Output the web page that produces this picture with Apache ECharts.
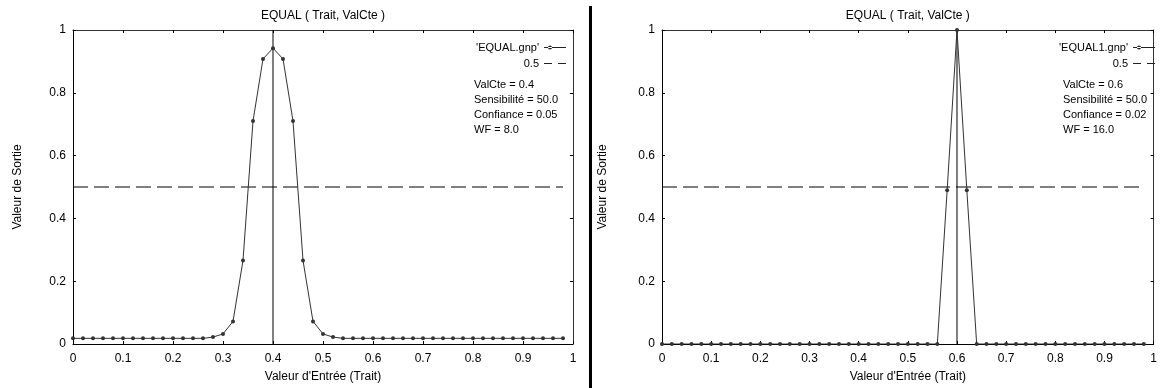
<!DOCTYPE html>
<html><head><meta charset="utf-8">
<script src="https://cdn.jsdelivr.net/npm/echarts@6/dist/echarts.min.js"></script>
<style>html,body{margin:0;padding:0;background:#fff}#c{width:1160px;height:388px}</style>
</head><body><div id="c"></div>
<script>
// ---- data ----
const xValues = [0,0.02,0.04,0.06,0.08,0.1,0.12,0.14,0.16,0.18,0.2,0.22,0.24,0.26,0.28,0.3,0.32,0.34,0.36,0.38,
  0.4,0.42,0.44,0.46,0.48,0.5,0.52,0.54,0.56,0.58,0.6,0.62,0.64,0.66,0.68,0.7,0.72,0.74,0.76,0.78,
  0.8,0.82,0.84,0.86,0.88,0.9,0.92,0.94,0.96,0.98];
const leftValues = [0.018,0.018,0.018,0.018,0.018,0.018,0.018,0.018,0.018,0.018,0.018,0.018,0.018,0.018,
  0.022,0.032,0.072,0.266,0.71,0.908,0.942,0.908,0.71,0.266,0.072,0.032,0.022,
  0.018,0.018,0.018,0.018,0.018,0.018,0.018,0.018,0.018,0.018,0.018,0.018,0.018,0.018,0.018,0.018,0.018,0.018,0.018,0.018,0.018,0.018,0.018];
const rightValues = [0,0,0,0,0,0,0,0,0,0,0,0,0,0,0,0,0,0,0,0,0,0,0,0,0,0,0,0,0,
  0.49,1.0,0.49,
  0,0,0,0,0,0,0,0,0,0,0,0,0,0,0,0,0,0];
const thresholdValue = 0.5;
const thresholdRange = [0, 0.98];
const valCte = [0.4, 0.6];
const seriesNames = ["'EQUAL.gnp'", "'EQUAL1.gnp'"];
const thresholdName = '0.5';
const chartTitle = 'EQUAL ( Trait, ValCte )';
const xName = "Valeur d'Entrée (Trait)";
const yName = 'Valeur de Sortie';
const infoLeft = ['ValCte = 0.4', 'Sensibilité = 50.0', 'Confiance = 0.05', 'WF = 8.0'];
const infoRight = ['ValCte = 0.6', 'Sensibilité = 50.0', 'Confiance = 0.02', 'WF = 16.0'];

// ---- chart ----
const FONT = '"Liberation Sans", Arial, sans-serif';
const chart = echarts.init(document.getElementById('c'), null, {renderer: 'canvas'});

const grids = [
  {left: 73, top: 30, width: 500, height: 315.7},
  {left: 662, top: 30, width: 502, height: 315.7}
];
const yGaps = [49, 53];

const xAxes = [], yAxes = [], series = [];
grids.forEach((g, i) => {
  xAxes.push({
    gridIndex: i, type: 'value', min: 0, max: 1, interval: 0.1, position: 'bottom',
    name: xName, nameLocation: 'middle', nameGap: 27,
    nameTextStyle: {fontFamily: FONT, fontSize: 12, color: '#000'},
    axisLine: {show: true, onZero: false, lineStyle: {color: '#000', width: 1}},
    axisTick: {show: true, inside: true, length: 3, lineStyle: {color: '#000'}},
    axisLabel: {fontFamily: FONT, fontSize: 12, color: '#000', margin: 9},
    splitLine: {show: false}
  });
  xAxes.push({
    gridIndex: i, type: 'value', min: 0, max: 1, interval: 0.1, position: 'top',
    name: chartTitle, nameLocation: 'middle', nameGap: 8,
    nameTextStyle: {fontFamily: FONT, fontSize: 12, color: '#000'},
    axisLine: {show: true, onZero: false, lineStyle: {color: '#333', width: 1}},
    axisTick: {show: true, inside: true, length: 3, lineStyle: {color: '#000'}},
    axisLabel: {show: false}, splitLine: {show: false}
  });
  yAxes.push({
    gridIndex: i, type: 'value', min: 0, max: 1, interval: 0.2, position: 'left',
    name: yName, nameLocation: 'middle', nameGap: yGaps[i], nameRotate: 90,
    nameTextStyle: {fontFamily: FONT, fontSize: 12, color: '#000'},
    axisLine: {show: true, onZero: false, lineStyle: {color: '#000', width: 1}},
    axisTick: {show: true, inside: true, length: 3, lineStyle: {color: '#000'}},
    axisLabel: {fontFamily: FONT, fontSize: 12, color: '#000', margin: 7},
    splitLine: {show: false}
  });
  yAxes.push({
    gridIndex: i, type: 'value', min: 0, max: 1, interval: 0.2, position: 'right',
    axisLine: {show: true, onZero: false, lineStyle: {color: '#333', width: 1}},
    axisTick: {show: true, inside: true, length: 3, lineStyle: {color: '#000'}},
    axisLabel: {show: false}, splitLine: {show: false}
  });
});

const dataSets = [leftValues, rightValues];
dataSets.forEach((vals, i) => {
  series.push({
    name: seriesNames[i], type: 'line', xAxisIndex: i * 2, yAxisIndex: i * 2,
    data: xValues.map((x, k) => [x, vals[k]]),
    symbol: 'circle', symbolSize: 4, showAllSymbol: true,
    lineStyle: {color: '#333', width: 1},
    itemStyle: {color: '#333'},
    emphasis: {disabled: true}, animation: false, z: 3
  });
  series.push({
    name: thresholdName, type: 'line', xAxisIndex: i * 2, yAxisIndex: i * 2,
    data: thresholdRange.map(x => [x, thresholdValue]),
    symbol: 'none',
    lineStyle: {color: '#000', width: 1.2, type: [15, 6]},
    itemStyle: {color: '#000'},
    emphasis: {disabled: true}, animation: false, z: 2
  });
  series.push({
    name: 'valcte' + i, type: 'line', xAxisIndex: i * 2, yAxisIndex: i * 2,
    data: [[valCte[i], 0], [valCte[i], 1]],
    symbol: 'none', lineStyle: {color: '#000', width: 1},
    emphasis: {disabled: true}, animation: false, z: 2, silent: true
  });
});

// legend sample icons (box 22x10, corner dots fix the bounds)
const BOUNDS = 'M0,0h0.01v0.01h-0.01zM22,10h0.01v0.01h-0.01z';
const ICON_LINE = 'path://' + BOUNDS + 'M0,4.5h22v1h-22zM4,5a2,2 0 1,0 4,0a2,2 0 1,0 -4,0z';
const ICON_DASH = 'path://' + BOUNDS + 'M0,4.5h8v1h-8zM14,4.5h8v1h-8z';

const legendRight = [589, 0];
const legends = legendRight.map((r, i) => ({
  data: [{name: seriesNames[i], icon: ICON_LINE}, {name: thresholdName, icon: ICON_DASH}],
  orient: 'vertical', align: 'right', right: r, top: 37,
  itemWidth: 22, itemHeight: 10, itemGap: 5,
  itemStyle: {color: '#222', borderWidth: 0},
  textStyle: {fontFamily: FONT, fontSize: 11, color: '#000'},
  selectedMode: false
}));

const infoLefts = [469, 1058];
const titles = [infoLeft, infoRight].map((lines, i) => ({
  text: lines.join('\n'), left: infoLefts[i], top: 72,
  textStyle: {fontFamily: FONT, fontSize: 11, fontWeight: 'normal', color: '#000', lineHeight: 15}
}));

chart.setOption({
  backgroundColor: '#fff',
  animation: false,
  title: titles,
  legend: legends,
  grid: grids,
  xAxis: xAxes,
  yAxis: yAxes,
  series: series,
  graphic: [{type: 'rect', shape: {x: 589, y: 6, width: 3, height: 382}, style: {fill: '#000'}, silent: true}]
});
</script>
</body></html>
